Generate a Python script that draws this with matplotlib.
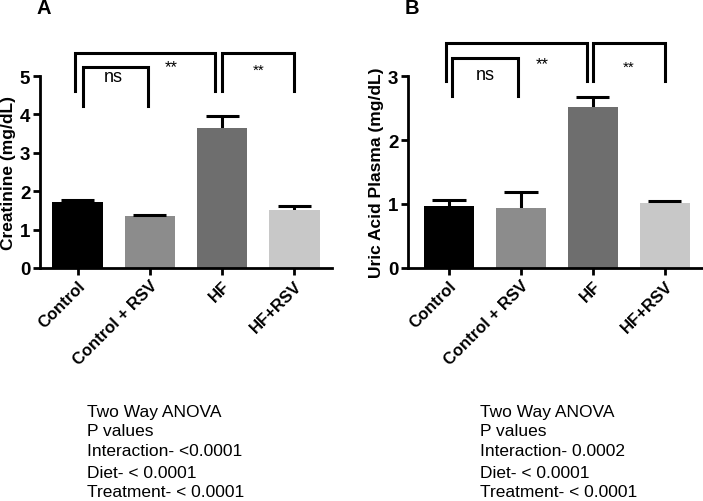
import matplotlib
matplotlib.use('Agg')
import matplotlib.pyplot as plt
import numpy as np

plt.rcParams['font.family'] = ['Liberation Sans', 'DejaVu Sans']

groups = ['Control', 'Control + RSV', 'HF', 'HF+RSV']
bar_colors = ['#000000', '#8c8c8c', '#6e6e6e', '#c8c8c8']

creat_mean = [1.71, 1.36, 3.64, 1.52]
creat_err = [0.07, 0.02, 0.33, 0.09]

uric_mean = [0.97, 0.94, 2.51, 1.01]
uric_err = [0.10, 0.25, 0.16, 0.04]

anova_a = ['Two Way ANOVA', 'P values', 'Interaction- <0.0001',
           'Diet- < 0.0001', 'Treatment- < 0.0001']
anova_b = ['Two Way ANOVA', 'P values', 'Interaction- 0.0002',
           'Diet- < 0.0001', 'Treatment- < 0.0001']

W, H = 703, 502
fig = plt.figure(figsize=(W / 100, H / 100), dpi=100)


def px_axes(left, right, top, bottom):
    return fig.add_axes([left / W, 1 - bottom / H, (right - left) / W, (bottom - top) / H])


def bracket(ax, x1, x2, y_top, y1, y2):
    ax.plot([x1, x1, x2, x2], [y1, y_top, y_top, y2], color='black', lw=2.2,
            clip_on=False, solid_joinstyle='miter')


def panel(ax, means, errs, ylim, yticks, ylabel, xlim):
    x = np.arange(len(groups))
    means = np.array(means)
    tops = means + np.array(errs)
    ax.bar(x, means, width=0.7, color=bar_colors, edgecolor='none', zorder=2)
    # upper error only (Prism style)
    ax.vlines(x, means - 0.05 * ylim[1] / 5, tops, color='black', lw=2.2, zorder=1)
    ax.hlines(tops, x - 0.23, x + 0.23, color='black', lw=2.2, zorder=3)
    ax.set_xlim(*xlim)
    ax.set_ylim(*ylim)
    ax.set_yticks(yticks)
    ax.set_xticks(x)
    ax.set_xticklabels(groups, rotation=45, ha='right', rotation_mode='anchor',
                       fontsize=12, fontweight='bold')
    for lab in ax.get_yticklabels():
        lab.set_fontsize(13.5)
        lab.set_fontweight('bold')
    ax.set_ylabel(ylabel, fontsize=12.5, fontweight='bold', labelpad=3)
    for s in ['top', 'right']:
        ax.spines[s].set_visible(False)
    for s in ['left', 'bottom']:
        ax.spines[s].set_linewidth(2)
    ax.tick_params(axis='both', width=2, length=5, direction='out', pad=2)


# Panel A
axA = px_axes(40, 332, 77, 269)
panel(axA, creat_mean, creat_err, (0, 5), [0, 1, 2, 3, 4, 5],
      'Creatinine (mg/dL)', (-0.52, 3.52))
bracket(axA, -0.03, 1.9, 5.6, 4.6, 4.6)
bracket(axA, 0.07, 0.97, 5.23, 4.22, 4.22)
bracket(axA, 2.0, 3.0, 5.6, 4.6, 4.6)
axA.text(0.5, 4.98, 'ns', ha='center', va='center', fontsize=13)
axA.text(1.3, 5.25, '**', ha='center', va='center', fontsize=12)
axA.text(2.5, 5.15, '**', ha='center', va='center', fontsize=11)

# Panel B
axB = px_axes(408, 703, 77, 269)
panel(axB, uric_mean, uric_err, (0, 3), [0, 1, 2, 3],
      'Uric Acid Plasma (mg/dL)', (-0.57, 3.53))
bracket(axB, -0.04, 1.92, 3.51, 2.92, 2.92)
bracket(axB, 0.04, 0.96, 3.28, 2.69, 2.69)
bracket(axB, 2.0, 3.0, 3.51, 2.92, 2.92)
axB.text(0.5, 3.02, 'ns', ha='center', va='center', fontsize=13)
axB.text(1.3, 3.2, '**', ha='center', va='center', fontsize=12)
axB.text(2.5, 3.15, '**', ha='center', va='center', fontsize=11)

fig.text(44 / W, 1 - 9 / H, 'A', ha='center', va='center', fontsize=14.5, fontweight='bold')
fig.text(412 / W, 1 - 9 / H, 'B', ha='center', va='center', fontsize=14.5, fontweight='bold')

line_y = [412, 432, 452, 473, 493]
for txt, yy in zip(anova_a, line_y):
    fig.text(87 / W, 1 - yy / H, txt, ha='left', va='center', fontsize=12.5)
for txt, yy in zip(anova_b, line_y):
    fig.text(480 / W, 1 - yy / H, txt, ha='left', va='center', fontsize=12.5)

fig.savefig('out.png', dpi=100)
